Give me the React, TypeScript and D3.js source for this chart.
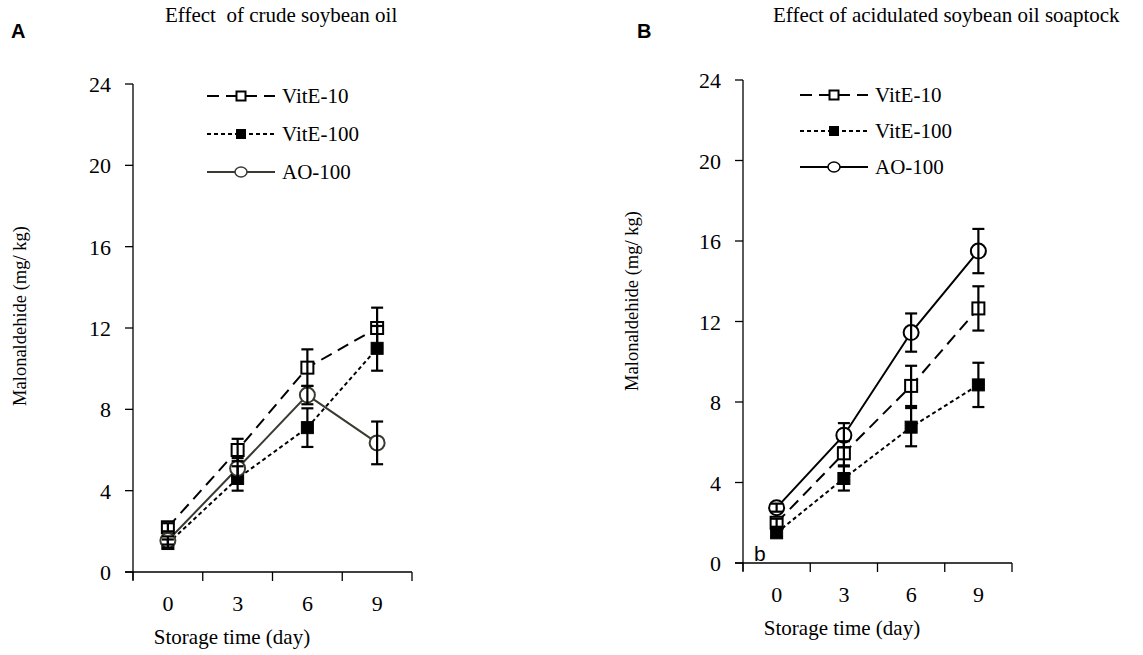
import React from "react";
import * as d3 from "d3";

// Storage days on the x axis
const days = ["0", "3", "6", "9"];
const yTicks = [0, 4, 8, 12, 16, 20, 24];

// Panel A: crude soybean oil (malonaldehyde, mg/kg)
const crudeVitE10 = [2.2, 6.0, 10.05, 12.0];
const crudeVitE10Err = [0.2, 0.55, 0.9, 1.0];
const crudeVitE100 = [1.4, 4.6, 7.1, 11.0];
const crudeVitE100Err = [0.2, 0.6, 0.95, 1.1];
const crudeAO100 = [1.55, 5.1, 8.7, 6.35];
const crudeAO100Err = [0.2, 0.5, 0.45, 1.05];

// Panel B: acidulated soybean oil soapstock
const acidVitE10 = [2.0, 5.45, 8.8, 12.65];
const acidVitE10Err = [0.2, 0.6, 1.0, 1.1];
const acidVitE100 = [1.5, 4.2, 6.75, 8.85];
const acidVitE100Err = [0.2, 0.6, 0.95, 1.1];
const acidAO100 = [2.75, 6.35, 11.45, 15.5];
const acidAO100Err = [0.2, 0.6, 0.95, 1.1];

const seriesNames = ["VitE-10", "VitE-100", "AO-100"];

const SERIF = "'Liberation Serif', 'Times New Roman', serif";
const SANS = "'Liberation Sans', Arial, sans-serif";

type Series = {
  name: string;
  values: number[];
  errors: number[];
  dash: string;
  marker: "openSquare" | "filledSquare" | "openCircle";
  color: string;
};

type PanelProps = {
  letter: string;
  title: string;
  titleX: number;
  left: number;
  right: number;
  yTop: number;
  yBottom: number;
  legendX: number;
  legendY: number;
  legendStep: number;
  yTitleX: number;
  yTitleY: number;
  xTitleX: number;
  series: Series[];
  note?: string;
  letterX: number;
};

function Marker({ kind, x, y, size, color }: { kind: Series["marker"]; x: number; y: number; size: number; color: string }) {
  if (kind === "openCircle") {
    return <circle cx={x} cy={y} r={size / 2} fill="#fff" stroke={color} strokeWidth={2} />;
  }
  const filled = kind === "filledSquare";
  return (
    <rect
      x={x - size / 2}
      y={y - size / 2}
      width={size}
      height={size}
      fill={filled ? "#000" : "#fff"}
      stroke="#000"
      strokeWidth={filled ? 1 : 2}
    />
  );
}

function Panel(p: PanelProps) {
  const x = d3.scaleBand<string>().domain(days).range([p.left, p.right]).paddingInner(0).paddingOuter(0);
  const y = d3.scaleLinear().domain([0, 24]).range([p.yBottom, p.yTop]);
  const cx = (d: string) => (x(d) as number) + x.bandwidth() / 2;
  const boundaries = [...days.map((d) => x(d) as number), p.right];

  const line = d3
    .line<number>()
    .x((_, i) => cx(days[i]))
    .y((v) => y(v));

  return (
    <g>
      <text x={p.letterX} y={38} fontFamily={SANS} fontWeight="bold" fontSize={20}>
        {p.letter}
      </text>
      <text x={p.titleX} y={22} fontFamily={SERIF} fontSize={21} style={{ whiteSpace: "pre" }}>
        {p.title}
      </text>

      {/* y axis */}
      <line x1={p.left} x2={p.left} y1={y(24)} y2={p.yBottom + 8} stroke="#000" strokeWidth={1.3} />
      {yTicks.map((t) => (
        <g key={t}>
          <line x1={p.left - 8} x2={p.left} y1={y(t)} y2={y(t)} stroke="#000" strokeWidth={1.3} />
          <text x={p.left - 22} y={y(t) + 8} textAnchor="end" fontFamily={SERIF} fontSize={22}>
            {t}
          </text>
        </g>
      ))}

      {/* x axis */}
      <line x1={p.left - 8} x2={p.right} y1={p.yBottom} y2={p.yBottom} stroke="#000" strokeWidth={1.3} />
      {boundaries.map((b, i) => (
        <line key={i} x1={b} x2={b} y1={p.yBottom} y2={p.yBottom + 9} stroke="#000" strokeWidth={1.3} />
      ))}
      {days.map((d) => (
        <text key={d} x={cx(d)} y={p.yBottom + 39} textAnchor="middle" fontFamily={SERIF} fontSize={22}>
          {d}
        </text>
      ))}
      <text x={p.xTitleX} y={p.yBottom + 72} textAnchor="middle" fontFamily={SERIF} fontSize={21}>
        Storage time (day)
      </text>
      <text
        transform={`translate(${p.yTitleX},${p.yTitleY}) rotate(-90)`}
        textAnchor="middle"
        fontFamily={SERIF}
        fontSize={18.5}
      >
        Malonaldehide (mg/ kg)
      </text>

      {/* lines */}
      {p.series.map((s) => (
        <path key={s.name + "l"} d={line(s.values) || ""} fill="none" stroke={s.color} strokeWidth={2} strokeDasharray={s.dash} />
      ))}
      {/* markers */}
      {p.series.map((s) =>
        s.values.map((v, i) => (
          <Marker key={s.name + "m" + i} kind={s.marker} x={cx(days[i])} y={y(v)} size={s.marker === "openCircle" ? 15 : 12} color={s.color} />
        ))
      )}
      {/* error bars */}
      {p.series.map((s) =>
        s.values.map((v, i) => {
          const px = cx(days[i]);
          const lo = y(v - s.errors[i]);
          const hi = y(v + s.errors[i]);
          return (
            <g key={s.name + "e" + i} stroke="#000" strokeWidth={2.2}>
              <line x1={px} x2={px} y1={lo} y2={hi} />
              <line x1={px - 6} x2={px + 6} y1={lo} y2={lo} />
              <line x1={px - 6} x2={px + 6} y1={hi} y2={hi} />
            </g>
          );
        })
      )}

      {/* legend */}
      {p.series.map((s, i) => {
        const ly = p.legendY + i * p.legendStep;
        const lx = p.legendX;
        return (
          <g key={s.name + "lg"}>
            <line x1={lx} x2={lx + 68} y1={ly} y2={ly} stroke={s.color} strokeWidth={2} strokeDasharray={s.dash} />
            {s.marker === "openCircle" ? (
              <ellipse cx={lx + 34} cy={ly} rx={6} ry={5} fill="#fff" stroke={s.color} strokeWidth={1.5} />
            ) : (
              <Marker kind={s.marker} x={lx + 34} y={ly} size={9} color={s.color} />
            )}
            <text x={lx + 75} y={ly + 7} fontFamily={SERIF} fontSize={21}>
              {s.name}
            </text>
          </g>
        );
      })}

      {p.note && (
        <text x={p.left + 11} y={p.yBottom - 2} fontFamily={SANS} fontSize={21}>
          {p.note}
        </text>
      )}
    </g>
  );
}

function makeSeries(v10: number[], e10: number[], v100: number[], e100: number[], ao: number[], eao: number[], aoColor: string): Series[] {
  return [
    { name: seriesNames[0], values: v10, errors: e10, dash: "12,7", marker: "openSquare", color: "#000" },
    { name: seriesNames[1], values: v100, errors: e100, dash: "4,3", marker: "filledSquare", color: "#000" },
    { name: seriesNames[2], values: ao, errors: eao, dash: "", marker: "openCircle", color: aoColor },
  ];
}

export default function App() {
  const crude = makeSeries(crudeVitE10, crudeVitE10Err, crudeVitE100, crudeVitE100Err, crudeAO100, crudeAO100Err, "#3a3a30");
  const acid = makeSeries(acidVitE10, acidVitE10Err, acidVitE100, acidVitE100Err, acidAO100, acidAO100Err, "#000");
  return (
    <div style={{ position: "absolute", left: 0, top: 0 }}>
      <svg width={1143} height={655} style={{ display: "block", background: "#fff" }}>
        <Panel
          letter="A"
          letterX={11}
          title="Effect  of crude soybean oil"
          titleX={165}
          left={133}
          right={412}
          yTop={84}
          yBottom={572}
          legendX={207}
          legendY={96}
          legendStep={38}
          yTitleX={26}
          yTitleY={316}
          xTitleX={232}
          series={crude}
        />
        <Panel
          letter="B"
          letterX={637}
          title="Effect of acidulated soybean oil soaptock"
          titleX={773}
          left={743}
          right={1012}
          yTop={80}
          yBottom={563}
          legendX={800}
          legendY={95}
          legendStep={36}
          yTitleX={638}
          yTitleY={301}
          xTitleX={842}
          series={acid}
          note="b"
        />
      </svg>
    </div>
  );
}
